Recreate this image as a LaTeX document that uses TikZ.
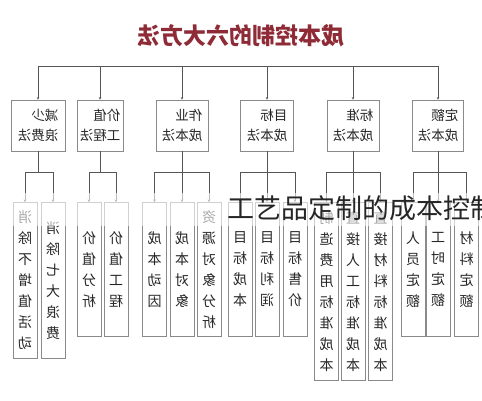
\documentclass[tikz,border=0pt]{standalone}
\usepackage{fontspec}
\setmainfont{Noto Sans CJK SC}
\usepackage{xcolor}
\usetikzlibrary{arrows.meta}
\definecolor{titlered}{HTML}{8E2B36}
\definecolor{boxgray}{HTML}{8A8A8A}
\definecolor{linegray}{HTML}{555555}
\definecolor{inkgray}{HTML}{262626}

\begin{document}
\begin{tikzpicture}[x=1pt,y=-1pt,
  method/.style={draw=boxgray, line width=0.8pt, minimum height=51pt, inner sep=0pt,
    align=left, text=inkgray, font=\fontsize{13.5}{20}\selectfont, xscale=-1},
  item/.style={draw=boxgray, line width=0.8pt, minimum width=24pt, anchor=north, inner sep=0pt,
    align=center, text=inkgray, font=\fontsize{14}{21}\selectfont, xscale=-1},
  link/.style={draw=linegray, line width=0.9pt},
  tip/.style={-{Stealth[length=2.5pt,width=2.5pt]}}]
  \clip (0,0) rectangle (482,400);
  \fill[white] (0,0) rectangle (482,400);

  % title (mirrored as in the picture)
  \node[font=\fontsize{23}{23}\selectfont\bfseries, text=titlered, xscale=-1] (title) at (241,36) {成本控制的六大方法};

  % the six methods
  \node[method, minimum width=54pt] (m1) at (38,125.5) {减少\\浪费法};
  \node[method, minimum width=46pt] (m2) at (100,125.5) {价值\\工程法};
  \node[method, minimum width=52pt] (m3) at (182,125.5) {作业\\成本法};
  \node[method, minimum width=53pt] (m4) at (267,125.5) {目标\\成本法};
  \node[method, minimum width=52pt] (m5) at (353,125.5) {标准\\成本法};
  \node[method, minimum width=51pt] (m6) at (438,125.5) {定额\\成本法};

  % the items under each method
  \node[item, minimum height=156pt] (m1a) at (25,202) {消\\除\\不\\增\\值\\活\\动};
  \node[item, minimum height=156pt] (m1b) at (53,202) {消\\除\\七\\大\\浪\\费};
  \node[item, minimum height=134pt] (m2a) at (89,202) {价\\值\\分\\析};
  \node[item, minimum height=134pt] (m2b) at (116,202) {价\\值\\工\\程};
  \node[item, minimum height=134pt] (m3a) at (154.5,202) {成\\本\\动\\因};
  \node[item, minimum height=134pt] (m3b) at (182,202) {成\\本\\对\\象};
  \node[item, minimum height=134pt] (m3c) at (209,202) {资\\源\\对\\象\\分\\析};
  \node[item, minimum height=134pt] (m4a) at (240,202) {目\\标\\成\\本};
  \node[item, minimum height=134pt] (m4b) at (267,202) {目\\标\\利\\润};
  \node[item, minimum height=134pt] (m4c) at (295,202) {目\\标\\售\\价};
  \node[item, minimum height=178pt] (m5a) at (326.5,202) {制\\造\\费\\用\\标\\准\\成\\本};
  \node[item, minimum height=178pt] (m5b) at (353,202) {直\\接\\人\\工\\标\\准\\成\\本};
  \node[item, minimum height=178pt] (m5c) at (380.5,202) {直\\接\\材\\料\\标\\准\\成\\本};
  \node[item, minimum height=134pt] (m6a) at (413,202) {人\\员\\定\\额};
  \node[item, minimum height=134pt] (m6b) at (438,202) {工\\时\\定\\额};
  \node[item, minimum height=134pt] (m6c) at (466.5,202) {材\\料\\定\\额};

  % connectors
  \coordinate (bar) at (0,66);
  \coordinate (fork) at (0,172);
  \draw[link] (m1.north |- bar) -- (m6.north |- bar);
  \foreach \m in {m1,m2,m3,m4,m5,m6} {
    \draw[link,tip] (\m.north |- bar) -- (\m.north);
    \draw[link] (\m.south) -- (\m.south |- fork);
  }
  \foreach \m/\k in {m1/a,m1/b,m2/a,m2/b,m3/a,m3/b,m3/c,m4/a,m4/b,m4/c,m5/a,m5/b,m5/c,m6/a,m6/b,m6/c}
    \draw[link,tip] (\m.south |- fork) -| (\m\k.north);

  % overlaid caption with its light band
  \fill[white, opacity=0.6] (0,193) rectangle (482,226);
  \node[anchor=west, inner sep=0pt, text=black!85, font=\fontsize{27}{27}\selectfont] (mark) at (227,208) {工艺品定制的成本控制};
\end{tikzpicture}
\end{document}
